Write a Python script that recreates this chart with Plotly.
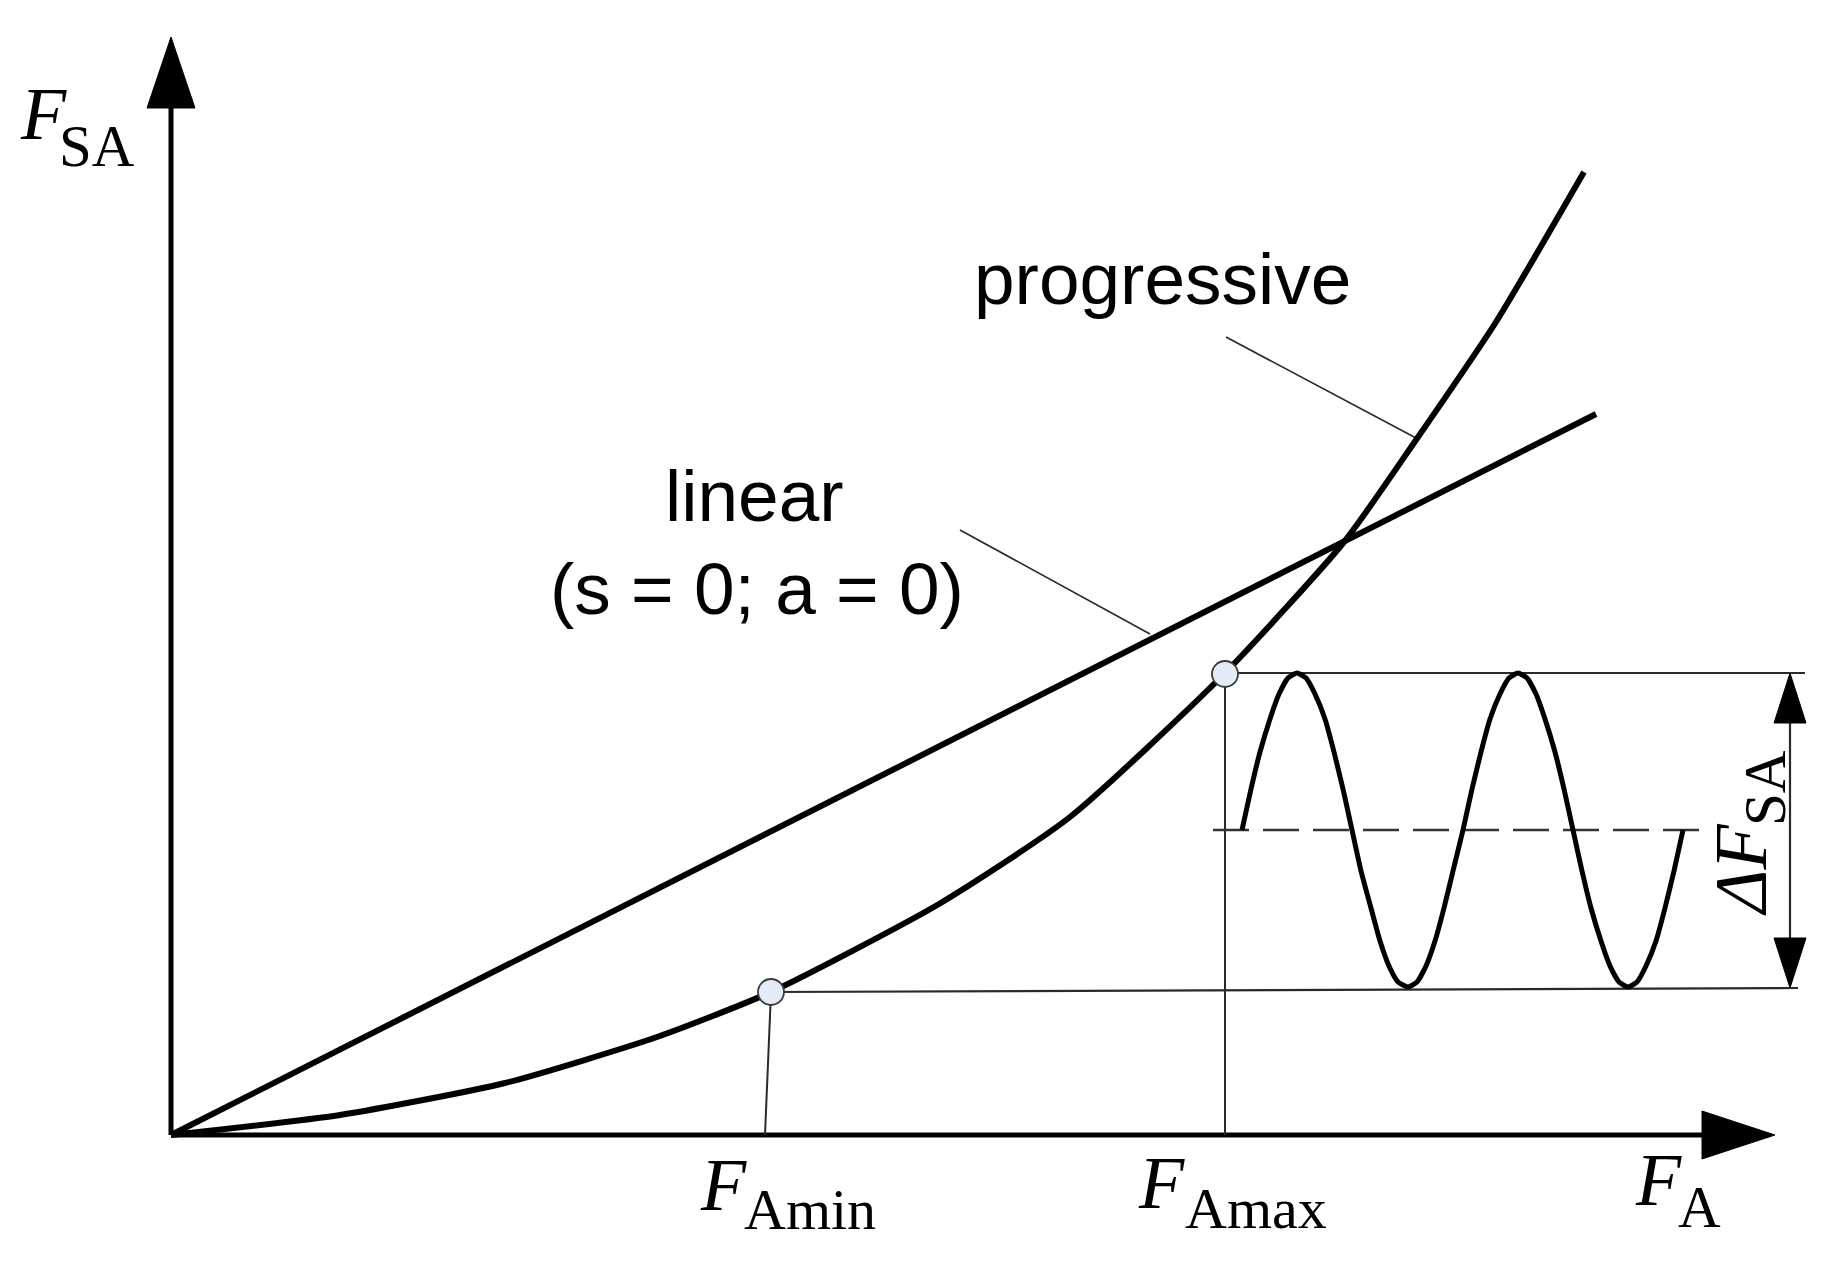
import plotly.graph_objects as go

# ---------------- data (diagram units, origin at the axes intersection) ----------------
# linear characteristic (s = 0; a = 0)
linear_x = [0, 1425]
linear_y = [0, 721]

# progressive characteristic
prog_x = [0, 169, 334, 486, 600, 768, 899, 1053, 1173, 1245, 1325, 1413]
prog_y = [0, 20, 52, 98, 143, 231, 318, 461, 593, 695, 813, 963]

# operating points
op_x = [600, 1054]          # F_Amin, F_Amax
op_y = [143, 461]           # F_SA at F_Amin / F_Amax

# alternating load (two periods), read every 1/24 period
sine_x = [1071, 1080, 1089, 1099, 1108, 1117, 1126, 1135, 1144, 1154, 1163, 1172,
          1181, 1190, 1200, 1209, 1218, 1227, 1237, 1246, 1255, 1264, 1273, 1282,
          1292, 1301, 1310, 1319, 1329, 1338, 1347, 1356, 1365, 1374, 1384, 1393,
          1402, 1411, 1420, 1430, 1439, 1448, 1457, 1466, 1475, 1485, 1494, 1503, 1512]
sine_y = [305, 346, 383, 416, 441, 457, 462, 457, 441, 416, 383, 346,
          305, 264, 227, 194, 169, 153, 148, 153, 169, 194, 227, 264,
          305, 346, 383, 416, 441, 457, 462, 457, 441, 416, 383, 346,
          305, 264, 227, 194, 169, 153, 148, 153, 169, 194, 227, 264, 305]
mean_y = 305
mean_x = [1042, 1532]

# extension of the band lines to the dimension arrow
band_end_x = [1634, 1627]
dim_x = 1619

# axes extents
x_axis_end = 1604
y_axis_end = 1098

# labels
lbl_progressive = "progressive"
lbl_linear = "linear"
lbl_linear2 = "(s = 0; a = 0)"

# ---------------- figure ----------------
fig = go.Figure()
BLACK = "#000000"
THIN = "#2a2a2a"


def line(xs, ys, width, color=BLACK, dash="solid", shape="linear", smoothing=None):
    ln = dict(color=color, width=width, dash=dash, shape=shape)
    if smoothing is not None:
        ln["smoothing"] = smoothing
    fig.add_trace(go.Scatter(x=xs, y=ys, mode="lines", line=ln,
                             hoverinfo="skip", showlegend=False))


def tri(xs, ys):
    fig.add_trace(go.Scatter(x=xs, y=ys, mode="lines", fill="toself",
                             fillcolor=BLACK, line=dict(color=BLACK, width=1),
                             hoverinfo="skip", showlegend=False))


# axes
AH_L, AH_W = 71, 24
line([0, 0], [0, y_axis_end - AH_L], 5)
tri([-AH_W, AH_W, 0, -AH_W], [y_axis_end - AH_L, y_axis_end - AH_L, y_axis_end, y_axis_end - AH_L])
line([0, x_axis_end - 73], [0, 0], 5)
tri([x_axis_end - 73, x_axis_end - 73, x_axis_end, x_axis_end - 73], [-AH_W, AH_W, 0, -AH_W])

# thin construction lines
line([op_x[0], op_x[0] - 6], [op_y[0], 0], 2, THIN)
line([op_x[1], op_x[1]], [op_y[1], 0], 2, THIN)
line([op_x[1], band_end_x[0]], [op_y[1] + 1, op_y[1] + 1], 2.2, THIN)
line([op_x[0], band_end_x[1]], [op_y[0], op_y[0] + 4], 2.2, THIN)
line(mean_x, [mean_y, mean_y], 2.4, "#333333", dash="36px,14px")

# leader lines
line([1055, 1245], [798, 697], 1.7, THIN)
line([789, 979], [605, 501], 1.7, THIN)

# characteristics
line(linear_x, linear_y, 6)
line(prog_x, prog_y, 6, shape="spline", smoothing=0.6)

# alternating load
line(sine_x, sine_y, 5, shape="spline", smoothing=0.5)

# dimension arrow ΔF_SA
DA_L, DA_W = 50, 16
top, bot = op_y[1] + 1, min(sine_y) - 1
line([dim_x, dim_x], [top - DA_L, bot + DA_L], 2.2, THIN)
tri([dim_x - DA_W, dim_x + DA_W, dim_x, dim_x - DA_W], [top - DA_L, top - DA_L, top, top - DA_L])
tri([dim_x - DA_W, dim_x + DA_W, dim_x, dim_x - DA_W], [bot + DA_L, bot + DA_L, bot, bot + DA_L])

# operating point markers
fig.add_trace(go.Scatter(x=op_x, y=op_y, mode="markers",
                         marker=dict(size=26, color="#e3ebf6",
                                     line=dict(color="#3a3a3a", width=1.8)),
                         hoverinfo="skip", showlegend=False))

# ---------------- text ----------------
SANS = "Liberation Sans, Arial, Helvetica, sans-serif"
SERIF = "Liberation Serif, Times New Roman, serif"


def txt(x, y, s, size, family, xanchor="center", angle=0):
    fig.add_annotation(x=x, y=y, xref="x", yref="y", text=s, showarrow=False,
                       xanchor=xanchor, yanchor="middle", textangle=angle,
                       font=dict(size=size, family=family, color=BLACK))


txt(991, 857, lbl_progressive, 73, SANS)
txt(583, 640, lbl_linear, 73, SANS)
txt(586, 547, lbl_linear2, 73, SANS)

# F_SA
txt(-153, 1021, "<i>F</i>", 74, SERIF, xanchor="left")
txt(-114, 989, "SA", 59, SERIF, xanchor="left")
# F_Amin
txt(527, -50, "<i>F</i>", 74, SERIF, xanchor="left")
txt(571, -74, "Amin", 58, SERIF, xanchor="left")
# F_Amax
txt(965, -48, "<i>F</i>", 74, SERIF, xanchor="left")
txt(1012, -73, "Amax", 58, SERIF, xanchor="left")
# F_A
txt(1462, -45, "<i>F</i>", 74, SERIF, xanchor="left")
txt(1505, -72, "A", 59, SERIF, xanchor="left")
# ΔF_SA (rotated)
txt(1570, 265, "<i>ΔF</i>", 74, SERIF, angle=-90)
txt(1594, 347, "SA", 59, SERIF, angle=-90)

fig.update_layout(
    width=1840, height=1266,
    margin=dict(l=0, r=0, t=0, b=0),
    paper_bgcolor="white", plot_bgcolor="white",
    xaxis=dict(range=[-171, 1669], visible=False, fixedrange=True),
    yaxis=dict(range=[-131, 1135], visible=False, fixedrange=True),
    showlegend=False,
)

fig.write_html("out.html", config={"displayModeBar": False},
               post_script="document.body.style.margin='0';document.body.style.overflow='hidden';")
